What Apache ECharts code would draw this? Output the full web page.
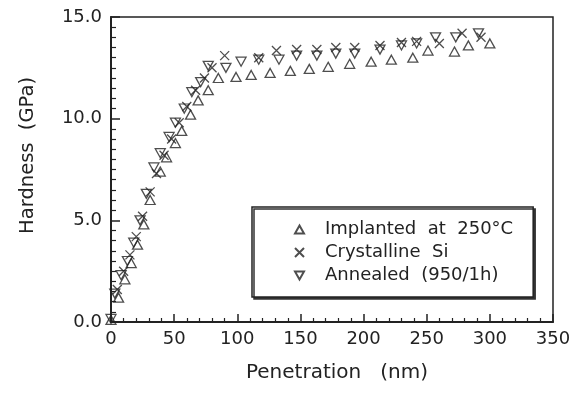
<!DOCTYPE html>
<html><head><meta charset="utf-8">
<script src="https://cdn.jsdelivr.net/npm/echarts@6/dist/echarts.min.js"></script>
<style>html,body{margin:0;padding:0;background:#fff}#c{width:574px;height:395px}</style>
</head><body><div id="c"></div>
<script>
// Penetration (nm) / Hardness (GPa)
const implantedX = [0,6,11,16,21,26,31,39,44,51,56,63,69,77,85,99,111,126,142,157,172,189,206,222,239,251,272,283,300];
const implantedY = [0.1,1.2,2.1,2.9,3.8,4.8,6.0,7.4,8.1,8.8,9.4,10.2,10.9,11.4,12.0,12.05,12.15,12.25,12.35,12.45,12.55,12.7,12.8,12.9,13.0,13.35,13.3,13.6,13.7];
const crystalX = [5,10,15,20,25,31,36,42,48,54,60,67,74,80,90,117,131,147,163,178,193,213,230,242,260,278,293];
const crystalY = [1.6,2.5,3.3,4.2,5.2,6.4,7.3,8.2,9.0,9.8,10.6,11.4,12.0,12.5,13.1,13.0,13.35,13.4,13.4,13.5,13.5,13.6,13.75,13.8,13.7,14.2,14.0];
const annealedX = [0,3,8,13,18,23,28,34,39,46,51,58,64,71,77,91,103,117,133,147,163,178,193,213,230,242,257,273,291];
const annealedY = [0.15,1.4,2.3,3.0,3.9,5.0,6.3,7.6,8.3,9.1,9.8,10.5,11.3,11.8,12.6,12.5,12.8,12.9,12.9,13.1,13.1,13.2,13.2,13.4,13.6,13.7,14.0,14.0,14.2];
const seriesNames = ['Implanted  at  250°C', 'Crystalline  Si', 'Annealed  (950/1h)'];
const xTicks = [0, 350, 50];
const yTicks = [0, 15, 5];

const zip = (a, b) => a.map((v, i) => [v, b[i]]);
const ink = '#222';
const font = 'DejaVu Sans, Liberation Sans, Arial, sans-serif';
const markStyle = {color: 'rgba(0,0,0,0)', borderColor: ink, borderWidth: 1.3};
const triUp = 'path://M5,0L10,9L0,9Z';
const triDown = 'path://M0,0L10,0L5,9Z';
const cross = 'path://M0,0L10,10M10,0L0,10';
const chart = echarts.init(document.getElementById('c'), null, {renderer: 'canvas'});
chart.setOption({
  backgroundColor: '#fff',
  animation: false,
  textStyle: {fontFamily: font, color: ink},
  grid: {left: 111, right: 21, top: 17, bottom: 73, show: true, borderColor: ink, borderWidth: 1.5, backgroundColor: 'transparent'},
  xAxis: {
    type: 'value', min: xTicks[0], max: xTicks[1], interval: xTicks[2],
    name: 'Penetration   (nm)', nameLocation: 'middle', nameGap: 41,
    nameTextStyle: {fontSize: 20, color: ink, fontFamily: font, padding: [0, 0, 0, 10]},
    axisLine: {lineStyle: {color: ink, width: 2}},
    axisTick: {inside: true, length: 8, lineStyle: {color: ink, width: 1.5}},
    minorTick: {show: true, splitNumber: 5, length: 4, lineStyle: {color: ink, width: 1.2}},
    splitLine: {show: false},
    axisLabel: {fontSize: 18, color: ink, fontFamily: font, margin: 8}
  },
  yAxis: {
    type: 'value', min: yTicks[0], max: yTicks[1], interval: yTicks[2],
    axisLine: {lineStyle: {color: ink, width: 2}},
    axisTick: {inside: true, length: 9, lineStyle: {color: ink, width: 1.5}},
    minorTick: {show: true, splitNumber: 10, length: 5, lineStyle: {color: ink, width: 1.2}},
    splitLine: {show: false},
    axisLabel: {fontSize: 18, color: ink, fontFamily: font, margin: 9, formatter: v => v.toFixed(1)}
  },
  graphic: [{
    type: 'text', left: 18, top: 77, rotation: Math.PI / 2,
    style: {text: 'Hardness  (GPa)', fontSize: 19.5, fill: ink, fontFamily: font}
  }],
  legend: {
    orient: 'vertical', left: 252, top: 207,
    padding: [13, 20, 12, 42],
    itemWidth: 9, itemHeight: 9, itemGap: 4,
    backgroundColor: '#fff', borderColor: ink, borderWidth: 1.5,
    shadowColor: '#333', shadowOffsetX: 2, shadowOffsetY: 2, shadowBlur: 0,
    textStyle: {fontSize: 18, color: ink, fontFamily: font, lineHeight: 19, padding: [0, 0, 0, 16]},
    data: [
      {name: seriesNames[0], icon: triUp},
      {name: seriesNames[1], icon: cross},
      {name: seriesNames[2], icon: triDown}
    ]
  },
  series: [
    {name: seriesNames[0], type: 'scatter', symbol: triUp, symbolSize: [10, 9], itemStyle: markStyle, data: zip(implantedX, implantedY)},
    {name: seriesNames[1], type: 'scatter', symbol: cross, symbolSize: 9, itemStyle: markStyle, data: zip(crystalX, crystalY)},
    {name: seriesNames[2], type: 'scatter', symbol: triDown, symbolSize: [10, 9], itemStyle: markStyle, data: zip(annealedX, annealedY)}
  ]
});
</script></body></html>
